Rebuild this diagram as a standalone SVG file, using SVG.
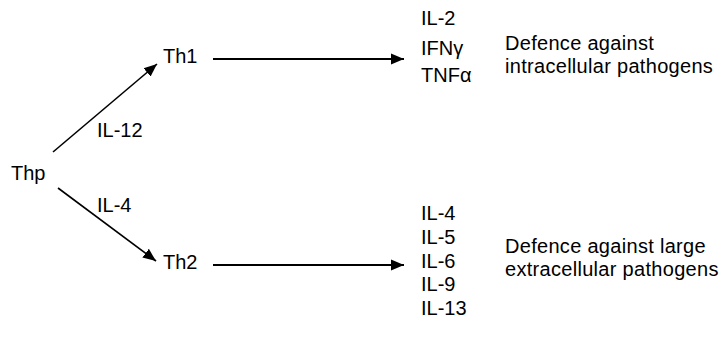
<svg xmlns="http://www.w3.org/2000/svg" width="723" height="339" viewBox="0 0 723 339">
<style>
text{font-family:"Liberation Sans",Arial,sans-serif;font-size:20px;fill:#000}
.c{stroke:#000;stroke-width:2;fill:none}
.d{stroke-width:1.6}
.r{letter-spacing:0.3px}
</style>
<defs>
<marker id="ahb" viewBox="0 0 10 10" refX="10" refY="5" markerWidth="13" markerHeight="13" markerUnits="userSpaceOnUse" orient="auto">
<path d="M0,0.8 L10,5 L0,9.2 z" fill="#000"/>
</marker>
</defs>
<rect width="723" height="339" fill="#fff"/>
<g id="connectors">
<line class="c d" x1="53" y1="152" x2="157" y2="64" marker-end="url(#ahb)"/>
<line class="c d" x1="58" y1="188" x2="156" y2="261" marker-end="url(#ahb)"/>
<line class="c" x1="213" y1="59" x2="404" y2="59" marker-end="url(#ahb)"/>
<line class="c" x1="213" y1="265" x2="404" y2="265" marker-end="url(#ahb)"/>
</g>
<g id="thp"><text x="11" y="180">Thp</text></g>
<g id="lbl-il12"><text x="97" y="137">IL-12</text></g>
<g id="lbl-il4"><text x="97" y="212">IL-4</text></g>
<g id="th1"><text x="163" y="63">Th1</text></g>
<g id="th2"><text x="163" y="269">Th2</text></g>
<g id="th1-cytokines">
<text x="421" y="25">IL-2</text>
<text x="421" y="55">IFNγ</text>
<text x="421" y="82">TNFα</text>
</g>
<g id="th1-role">
<text class="r" x="505" y="50">Defence against</text>
<text class="r" x="505" y="73">intracellular pathogens</text>
</g>
<g id="th2-cytokines">
<text x="421" y="220">IL-4</text>
<text x="421" y="244">IL-5</text>
<text x="421" y="268">IL-6</text>
<text x="421" y="291">IL-9</text>
<text x="421" y="315">IL-13</text>
</g>
<g id="th2-role">
<text class="r" x="505" y="253">Defence against large</text>
<text class="r" x="505" y="276">extracellular pathogens</text>
</g>
</svg>
